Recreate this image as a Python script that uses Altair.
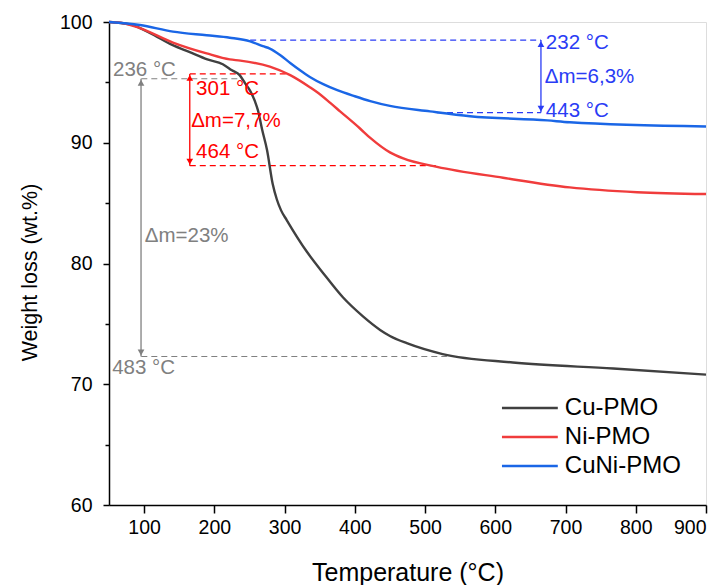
import altair as alt
import pandas as pd

# ---- data ----
cu_T = [50, 80, 108, 140, 165, 190, 212, 225, 236, 244, 251, 258, 262, 268, 275, 283, 289, 295, 303, 332, 355, 383, 412, 436, 450, 474, 525, 625, 768, 900]
cu_W = [100, 99.8, 99.1, 98.1, 97.5, 96.9, 96.5, 96.0, 95.6, 94.9, 94.3, 93.4, 92.7, 91.1, 89.4, 86.6, 85.3, 84.4, 83.6, 80.95, 79.2, 77.2, 75.6, 74.5, 74.0, 73.4, 72.5, 71.8, 71.3, 70.8]

ni_T = [50, 70, 94, 141, 189, 222, 237, 279, 308, 336, 346, 365, 379, 407, 422, 450, 469, 517, 611, 706, 802, 900]
ni_W = [100, 99.9, 99.5, 98.3, 97.4, 96.9, 96.8, 96.3, 95.6, 94.6, 94.2, 93.3, 92.6, 91.2, 90.4, 89.2, 88.7, 88.0, 87.1, 86.3, 85.9, 85.75]

cuni_T = [50, 94, 141, 189, 222, 251, 269, 279, 294, 308, 322, 336, 355, 375, 400, 422, 450, 507, 564, 674, 706, 900]
cuni_W = [100, 99.75, 99.2, 98.9, 98.7, 98.4, 98.0, 97.8, 97.25, 96.6, 96.0, 95.45, 94.85, 94.35, 93.85, 93.45, 93.05, 92.6, 92.2, 91.85, 91.7, 91.35]

series_names = ["Cu-PMO", "Ni-PMO", "CuNi-PMO"]
series_colors = ["#404040", "#f03c3c", "#1a66e6"]
x_ticks = [100, 200, 300, 400, 500, 600, 700, 800, 900]
y_ticks = [60, 65, 70, 75, 80, 85, 90, 95, 100]

# annotation values
ann_color = {"gray": "#808080", "red": "#ff0000", "blue": "#2a3cf5"}
dash_x1 = [96, 96, 165, 165, 251, 517]
dash_x2 = [240, 531, 303, 517, 665, 665]
dash_y = [95.3, 72.3, 95.7, 88.1, 98.5, 92.5]
dash_grp = ["gray", "gray", "red", "red", "blue", "blue"]

arrow_x = [95.6, 165, 665]
arrow_top = [95.3, 95.7, 98.5]
arrow_bot = [72.3, 88.1, 92.5]
arrow_grp = ["gray", "red", "blue"]

txt = ["236 °C", "Δm=23%", "483 °C", "301 °C", "Δm=7,7%", "464 °C", "232 °C", "Δm=6,3%", "443 °C"]
txt_x = [55.7, 101, 54.5, 174, 167, 174, 672, 670.5, 672]
txt_y = [96.0, 82.3, 71.35, 94.45, 91.8, 89.2, 98.26, 95.45, 92.6]
txt_grp = ["gray"] * 3 + ["red"] * 3 + ["blue"] * 3

leg_x1, leg_x2, leg_tx = 609.5, 689, 699
leg_y = [68.03, 65.63, 63.23]

# ---- build tables ----
rows = []
for name, T, W in zip(series_names, [cu_T, ni_T, cuni_T], [cu_W, ni_W, cuni_W]):
    for t, w in zip(T, W):
        rows.append({"series": name, "T": t, "W": w})
curves = pd.DataFrame(rows)

xs = alt.Scale(domain=[50, 900], nice=False, zero=False)
ys = alt.Scale(domain=[60, 100], nice=False, zero=False)
cscale = alt.Scale(domain=series_names, range=series_colors)
gscale = alt.Scale(domain=list(ann_color.keys()), range=list(ann_color.values()))

x_axis = alt.Axis(values=x_ticks, title="Temperature (°C)", grid=False,
                  labelFontSize=19.5, titleFontSize=25, labelFont="Liberation Sans",
                  titleFont="Liberation Sans", titleFontWeight="normal",
                  tickSize=8, labelPadding=5, domainWidth=1.5, tickWidth=1.5,
                  domainColor="black", tickColor="black", labelColor="black",
                  titleColor="black", titleX=298.5, titleY=67, titleBaseline="middle",
                  titleAnchor="middle")
y_axis = alt.Axis(values=y_ticks, title="Weight loss (wt.%)", grid=False,
                  labelExpr="datum.value % 10 === 0 ? datum.label : ''",
                  tickSize={"condition": {"test": "datum.value % 10 === 0", "value": 6}, "value": 4},
                  labelFontSize=19.5, titleFontSize=21.5, labelFont="Liberation Sans",
                  titleFont="Liberation Sans", titleFontWeight="normal",
                  labelPadding=11, domainWidth=1.5, tickWidth=1.5,
                  domainColor="black", tickColor="black", labelColor="black",
                  titleColor="black", titleX=-79, titleY=250, titleAngle=-90,
                  titleBaseline="middle", titleAlign="center")

lines = alt.Chart(curves).mark_line(strokeWidth=2.4, interpolate="monotone").encode(
    x=alt.X("T:Q", scale=xs, axis=x_axis),
    y=alt.Y("W:Q", scale=ys, axis=y_axis),
    color=alt.Color("series:N", scale=cscale, legend=None),
    detail="series:N",
)

dash_df = pd.DataFrame({"x1": dash_x1, "x2": dash_x2, "y": dash_y, "g": dash_grp})
dashes = alt.Chart(dash_df).mark_rule(strokeDash=[6, 4], strokeWidth=1.2).encode(
    x=alt.X("x1:Q", scale=xs), x2="x2:Q", y=alt.Y("y:Q", scale=ys),
    color=alt.Color("g:N", scale=gscale, legend=None),
)

arr_df = pd.DataFrame({"x": arrow_x, "y1": arrow_top, "y2": arrow_bot, "g": arrow_grp})
shafts = alt.Chart(arr_df).mark_rule(strokeWidth=1.3).encode(
    x=alt.X("x:Q", scale=xs), y=alt.Y("y1:Q", scale=ys), y2="y2:Q",
    color=alt.Color("g:N", scale=gscale, legend=None),
)
heads_up = alt.Chart(arr_df).mark_point(shape="triangle-up", filled=True, size=45, opacity=1,
                                        yOffset=4).encode(
    x=alt.X("x:Q", scale=xs), y=alt.Y("y1:Q", scale=ys),
    color=alt.Color("g:N", scale=gscale, legend=None),
)
heads_down = alt.Chart(arr_df).mark_point(shape="triangle-down", filled=True, size=45, opacity=1,
                                          yOffset=-4).encode(
    x=alt.X("x:Q", scale=xs), y=alt.Y("y2:Q", scale=ys),
    color=alt.Color("g:N", scale=gscale, legend=None),
)

txt_df = pd.DataFrame({"t": txt, "x": txt_x, "y": txt_y, "g": txt_grp})
labels = alt.Chart(txt_df).mark_text(align="left", baseline="middle", fontSize=20.5,
                                     font="Liberation Sans").encode(
    x=alt.X("x:Q", scale=xs), y=alt.Y("y:Q", scale=ys), text="t:N",
    color=alt.Color("g:N", scale=gscale, legend=None),
)

leg_df = pd.DataFrame({"series": series_names, "x1": [leg_x1] * 3, "x2": [leg_x2] * 3,
                       "tx": [leg_tx] * 3, "y": leg_y})
leg_lines = alt.Chart(leg_df).mark_rule(strokeWidth=2.4).encode(
    x=alt.X("x1:Q", scale=xs), x2="x2:Q", y=alt.Y("y:Q", scale=ys),
    color=alt.Color("series:N", scale=cscale, legend=None),
)
leg_text = alt.Chart(leg_df).mark_text(align="left", baseline="middle", fontSize=24,
                                       font="Liberation Sans", color="black").encode(
    x=alt.X("tx:Q", scale=xs), y=alt.Y("y:Q", scale=ys), text="series:N",
)

chart = alt.layer(dashes, shafts, heads_up, heads_down, lines, labels, leg_lines, leg_text).resolve_scale(
    color="independent"
).properties(
    width=597, height=483,
    autosize=alt.AutoSizeParams(type="none"),
    padding={"left": 109, "top": 22, "right": 22, "bottom": 80},
).configure_view(stroke="black", strokeWidth=1.5).configure(background="white")

chart.save("out.html", embed_options={"renderer": "svg", "actions": False})
